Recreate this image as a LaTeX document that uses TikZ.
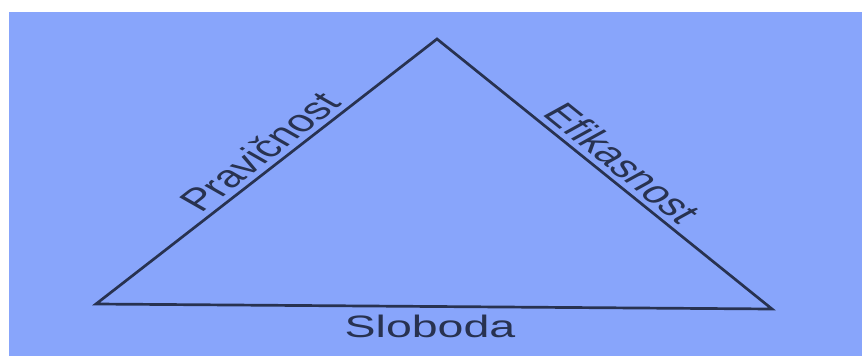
\documentclass[tikz,border=0pt]{standalone}
\usepackage{fontspec}
\setmainfont{Liberation Sans}
\definecolor{bgblue}{RGB}{136,165,251}
\definecolor{ink}{RGB}{40,50,80}
\tikzset{
  edge/.style={draw=ink, line width=2.7pt, line join=miter},
  lbl/.style={text=ink, inner sep=0pt, font=\fontsize{31}{36}\selectfont, anchor=base},
}
\begin{document}
\begin{tikzpicture}[x=1pt,y=-1pt]
\useasboundingbox (0,0) rectangle (862,356);
\fill[white] (0,0) rectangle (862,356);
\fill[bgblue] (9,12) rectangle (862,356);
\coordinate (A) at (437,39);
\coordinate (B) at (96,304);
\coordinate (C) at (772,309);
\draw[edge] (A) -- (B) -- (C) -- cycle;
\node[lbl, xscale=1.5, rotate=49.4] (prav) at (272,159) {Pravičnost};
\node[lbl, xscale=1.5, rotate=-50.4] (efik) at (610,170) {Efikasnost};
\node[lbl, xscale=1.5] (slob) at (430,337) {Sloboda};
\end{tikzpicture}
\end{document}
